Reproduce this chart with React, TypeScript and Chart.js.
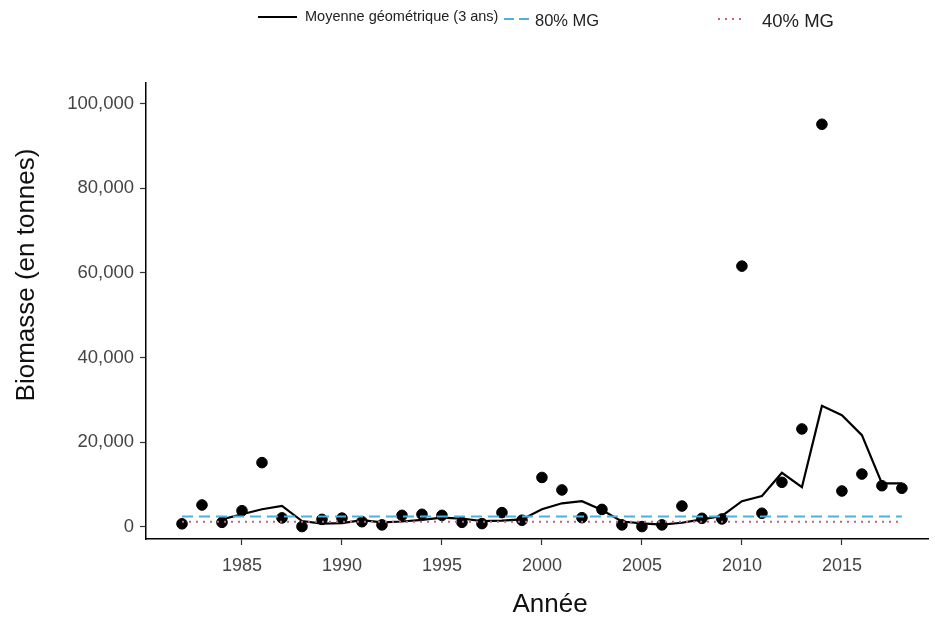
import React, { useEffect, useRef } from "react";
import { Chart, registerables } from "chart.js";

Chart.register(...registerables);

const YEARS = [
  1982, 1983, 1984, 1985, 1986, 1987, 1988, 1989, 1990, 1991, 1992, 1993, 1994,
  1995, 1996, 1997, 1998, 1999, 2000, 2001, 2002, 2003, 2004, 2005, 2006, 2007,
  2008, 2009, 2010, 2011, 2012, 2013, 2014, 2015, 2016, 2017, 2018,
];

const BIOMASS = [
  750, 5200, 1100, 3850, 15200, 2150, 100, 1800, 2100, 1250, 500, 2750, 3000,
  2750, 1100, 800, 3400, 1600, 11700, 8750, 2200, 4150, 500, 100, 500, 4950,
  2050, 1900, 61600, 3250, 10550, 23150, 95100, 8500, 12500, 9750, 9150,
];

const GM_YEARS = YEARS.slice(2);
const GEO_MEAN = [
  1800, 3000, 4200, 5000, 1400, 800, 900, 1600, 1100, 1300, 1700, 2200, 2000,
  1400, 1500, 1800, 4200, 5600, 6100, 4000, 1300, 850, 550, 1000, 1800, 2600,
  6100, 7300, 12800, 9400, 28600, 26400, 21700, 10300, 10300,
];

const MG80 = 2450;
const MG40 = 1225;

const X_TICKS = [1985, 1990, 1995, 2000, 2005, 2010, 2015];
const Y_TICKS = [0, 20000, 40000, 60000, 80000, 100000];

const LEGEND_LABELS = ["Moyenne géométrique (3 ans)", "80% MG", "40% MG"];
const X_TITLE = "Année";
const Y_TITLE = "Biomasse (en tonnes)";

const FONT = "'Liberation Sans', Arial, sans-serif";
const BLUE = "#4FB0DE";
const RED = "#D0606C";

const overlayPlugin = {
  id: "overlay",
  afterDraw(chart: any) {
    const ctx = chart.ctx;
    ctx.save();
    // legend
    ctx.lineCap = "butt";
    ctx.strokeStyle = "#000";
    ctx.lineWidth = 2;
    ctx.setLineDash([]);
    ctx.beginPath();
    ctx.moveTo(258, 17);
    ctx.lineTo(297, 17);
    ctx.stroke();
    ctx.fillStyle = "#222";
    ctx.textBaseline = "middle";
    ctx.textAlign = "left";
    ctx.font = `14.5px ${FONT}`;
    ctx.fillText(LEGEND_LABELS[0], 305, 17);

    ctx.strokeStyle = BLUE;
    ctx.setLineDash([10, 5]);
    ctx.beginPath();
    ctx.moveTo(504, 19);
    ctx.lineTo(529, 19);
    ctx.stroke();
    ctx.font = `16.5px ${FONT}`;
    ctx.fillText(LEGEND_LABELS[1], 535, 21);

    ctx.strokeStyle = RED;
    ctx.lineWidth = 2;
    ctx.setLineDash([2, 5]);
    ctx.beginPath();
    ctx.moveTo(718, 19);
    ctx.lineTo(746, 19);
    ctx.stroke();
    ctx.setLineDash([]);
    ctx.font = `18.5px ${FONT}`;
    ctx.fillText(LEGEND_LABELS[2], 762, 22);

    // axis titles
    ctx.fillStyle = "#111";
    ctx.font = `26px ${FONT}`;
    ctx.textAlign = "center";
    ctx.fillText(X_TITLE, 550, 605);
    ctx.translate(27, 275);
    ctx.rotate(-Math.PI / 2);
    ctx.fillText(Y_TITLE, 0, 0);
    ctx.restore();
  },
};

export default function App() {
  const ref = useRef<HTMLCanvasElement | null>(null);

  useEffect(() => {
    if (!ref.current) return;
    const chart = new Chart(ref.current, {
      type: "scatter",
      data: {
        datasets: [
          {
            label: "Biomasse",
            data: YEARS.map((x, i) => ({ x, y: BIOMASS[i] })),
            backgroundColor: "#000",
            borderColor: "#000",
            pointRadius: 5.3,
            pointHoverRadius: 5.3,
            showLine: false,
            order: 4,
          },
          {
            label: LEGEND_LABELS[0],
            type: "line",
            data: GM_YEARS.map((x, i) => ({ x, y: GEO_MEAN[i] })),
            borderColor: "#000",
            borderWidth: 2.2,
            pointRadius: 0,
            tension: 0,
            fill: false,
            order: 3,
          },
          {
            label: LEGEND_LABELS[1],
            type: "line",
            data: [
              { x: YEARS[0], y: MG80 },
              { x: YEARS[YEARS.length - 1], y: MG80 },
            ],
            borderColor: BLUE,
            borderWidth: 2,
            borderDash: [11, 6],
            pointRadius: 0,
            fill: false,
            order: 2,
          },
          {
            label: LEGEND_LABELS[2],
            type: "line",
            data: [
              { x: YEARS[0], y: MG40 },
              { x: YEARS[YEARS.length - 1], y: MG40 },
            ],
            borderColor: RED,
            borderWidth: 2,
            borderDash: [2, 5],
            pointRadius: 0,
            fill: false,
            order: 1,
          },
        ],
      },
      options: {
        animation: false,
        responsive: false,
        maintainAspectRatio: false,
        layout: { padding: { top: 83, left: 0, right: 0, bottom: 0 } },
        plugins: {
          legend: { display: false },
          tooltip: { enabled: false },
        },
        scales: {
          x: {
            type: "linear",
            min: 1980.2,
            max: 2019.34,
            afterFit: (s: any) => {
              s.height = 79;
            },
            afterBuildTicks: (s: any) => {
              s.ticks = X_TICKS.map((v) => ({ value: v }));
            },
            grid: {
              drawOnChartArea: false,
              drawTicks: true,
              tickLength: 6,
              tickWidth: 1.2,
              tickColor: "#333",
            },
            border: { display: true, color: "#000", width: 1.5 },
            ticks: {
              color: "#444",
              font: { family: FONT, size: 18 },
              padding: 10,
              maxRotation: 0,
              callback: (v: any) => String(v),
            },
          },
          y: {
            type: "linear",
            min: -2834,
            max: 104840,
            afterFit: (s: any) => {
              s.width = 146;
            },
            afterBuildTicks: (s: any) => {
              s.ticks = Y_TICKS.map((v) => ({ value: v }));
            },
            grid: {
              drawOnChartArea: false,
              drawTicks: true,
              tickLength: 6,
              tickWidth: 1.2,
              tickColor: "#333",
            },
            border: { display: true, color: "#000", width: 1.5 },
            ticks: {
              color: "#444",
              font: { family: FONT, size: 18.5 },
              padding: 6,
              callback: (v: any) => Number(v).toLocaleString("en-US"),
            },
          },
        },
      },
      plugins: [overlayPlugin],
    });
    return () => chart.destroy();
  }, []);

  return (
    <div style={{ position: "fixed", left: 0, top: 0, width: 935, height: 618, background: "#fff" }}>
      <canvas ref={ref} width={935} height={618} style={{ width: 935, height: 618 }} />
    </div>
  );
}
